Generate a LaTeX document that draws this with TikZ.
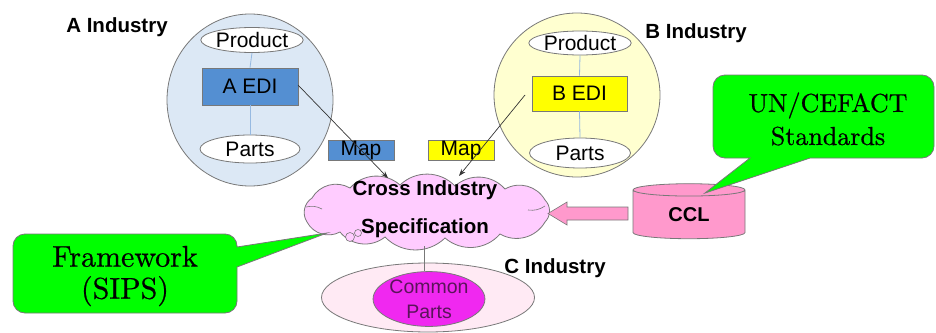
\documentclass[tikz,border=0pt]{standalone}
\usepackage{fontspec}
\setsansfont{Liberation Sans}
\newfontfamily\cmfont[FakeBold=0.6]{lmroman10-regular.otf}
\usetikzlibrary{shapes.geometric,arrows.meta}
\definecolor{circA}{RGB}{220,232,245}
\definecolor{circB}{RGB}{255,255,208}
\definecolor{ediA}{RGB}{84,143,210}
\definecolor{ediB}{RGB}{255,255,0}
\definecolor{inline}{RGB}{150,185,225}
\definecolor{edge}{RGB}{120,120,120}
\definecolor{cloudfill}{RGB}{255,204,255}
\definecolor{cclfill}{RGB}{255,153,204}
\definecolor{callgreen}{RGB}{0,255,0}
\definecolor{cfill}{RGB}{255,234,244}
\definecolor{commonfill}{RGB}{240,40,240}
\definecolor{commontext}{RGB}{90,20,90}
\begin{document}
\begin{tikzpicture}[x=1pt,y=-1pt,
  sf/.style={font=\sffamily\fontsize{21}{25}\selectfont},
  bsf/.style={font=\sffamily\bfseries\fontsize{20.5}{24}\selectfont},
  big/.style={font=\cmfont\fontsize{26}{33}\selectfont, align=center},
  industry/.style={draw=edge, line width=0.8pt, ellipse, inner sep=0pt},
  oval/.style={draw=edge, line width=0.8pt, fill=white, ellipse, inner sep=0pt, sf},
  edibox/.style={draw=edge, line width=0.6pt, inner sep=0pt, sf},
  mapbox/.style={draw=edge, line width=0.6pt, inner sep=0pt, minimum width=66pt, minimum height=20pt, sf},
  inner/.style={draw=inline, line width=0.8pt},
  link/.style={draw=black!80, line width=0.7pt, -{Stealth[length=7pt,width=5pt]}},
  callout/.style={draw=edge, line width=0.8pt, fill=callgreen},
  puff/.style={bend left=45},
]
\useasboundingbox (0,0) rectangle (936,332);

% A industry
\node[industry, fill=circA, minimum width=166pt, minimum height=172pt] (circA) at (250,100) {};
\node[bsf] (labA) at (117,27) {A Industry};
\node[oval, minimum width=101pt, minimum height=25pt] (prodA) at (252,40) {Product};
\node[edibox, fill=ediA, minimum width=96pt, minimum height=37pt] (ediA) at (250,86.5) {A EDI};
\node[oval, minimum width=100pt, minimum height=28pt] (partsA) at (250,149) {Parts};
\draw[inner] (prodA.south) -- (ediA.north);
\draw[inner] (ediA.south) -- (partsA.north);

% B industry
\node[industry, fill=circB, minimum width=166pt, minimum height=164pt] (circB) at (577,95) {};
\node[bsf] (labB) at (696,33) {B Industry};
\node[oval, minimum width=101pt, minimum height=24pt] (prodB) at (580,43) {Product};
\node[edibox, fill=ediB, minimum width=95pt, minimum height=35pt] (ediB) at (579.5,93.5) {B EDI};
\node[oval, minimum width=101pt, minimum height=30pt] (partsB) at (580,153) {Parts};
\draw[inner] (prodB.south) -- (ediB.north);
\draw[inner] (ediB.south) -- (partsB.north);

% maps
\node[mapbox, fill=ediA] (mapA) at (361,150) {Map};
\node[mapbox, fill=ediB] (mapB) at (461,150) {Map};

% C industry
\node[industry, fill=cfill, minimum width=213pt, minimum height=69pt] (cInd) at (428,297.5) {};
\node[bsf] (labC) at (555,268) {C Industry};

% cloud outline
\draw[draw=edge, line width=0.8pt, fill=cloudfill]
  (307,222) to[puff] (312,198) to[puff] (350,188) to[puff] (400,185) to[puff] (455,186)
  to[puff] (505,189) to[puff] (545,200) to[puff] (545,222) to[puff] (500,234)
  to[puff] (445,238) to[puff] (385,237) to[puff] (340,232) to[puff] (307,222) -- cycle;
\draw[draw=edge, line width=0.6pt] (306,207) to[bend left=20] (322,209);
\draw[draw=edge, line width=0.6pt] (528,210) to[bend right=20] (545,206);
\node[align=center, font=\sffamily\bfseries\fontsize{20.5}{38}\selectfont] (cloud) at (425,209) {Cross Industry\\Specification};
\coordinate (cloudBottom) at (424,246);
\node[circle, draw=edge, line width=0.6pt, fill=cloudfill, minimum size=9pt, inner sep=0pt] (bub1) at (350,237) {};
\node[circle, draw=edge, line width=0.6pt, fill=cloudfill, minimum size=7pt, inner sep=0pt] (bub2) at (358,233) {};

% common parts
\node[industry, fill=commonfill, minimum width=102pt, minimum height=45pt, align=center,
      font=\sffamily\fontsize{19.5}{25}\selectfont, text=commontext] (common) at (429,299) {Common\\Parts};
\draw[draw=edge, line width=0.8pt] (cloudBottom) -- (cloudBottom |- common.north);

% links
\coordinate (aStart) at (298,85);
\coordinate (aEnd) at (388,178);
\coordinate (bStart) at (525,95);
\coordinate (bEnd) at (459,176);
\draw[link] (aStart) -- (aEnd);
\draw[link] (bStart) -- (bEnd);

% CCL
\node[cylinder, shape border rotate=90, aspect=0.3, draw=edge, line width=0.8pt, fill=cclfill,
      minimum width=112pt, minimum height=55pt, inner sep=0pt, font=\sffamily\bfseries\fontsize{20}{24}\selectfont] (ccl) at (689,214.5) {CCL};

% block arrow CCL -> cloud
\coordinate (arTip) at (548,213.5);
\draw[draw=edge, line width=0.6pt, fill=cclfill]
  (628,207) -- (567,207) -- (567,202) -- (arTip) -- (567,225) -- (567,220) -- (628,220) -- cycle;

% callouts
\coordinate (unTip) at (705,193);
\draw[callout] (713,120) [rounded corners=12] -- (713,75) -- (934,75) -- (934,158) [sharp corners] -- (810,158) -- (unTip) -- (750,158) [rounded corners=12] -- (713,158) -- cycle;
\node[big] (un) at (828,119) {UN/CEFACT\\Standards};

\coordinate (fwTip) at (327,233);
\draw[callout] (125,234) [rounded corners=12] -- (237,234) [sharp corners] -- (237,247) -- (fwTip) -- (237,267) [rounded corners=12] -- (237,313) -- (13,313) -- (13,234) -- cycle;
\node[big, font=\cmfont\fontsize{30}{32}\selectfont] (fw) at (125,276) {Framework\\(SIPS)};
\end{tikzpicture}
\end{document}
